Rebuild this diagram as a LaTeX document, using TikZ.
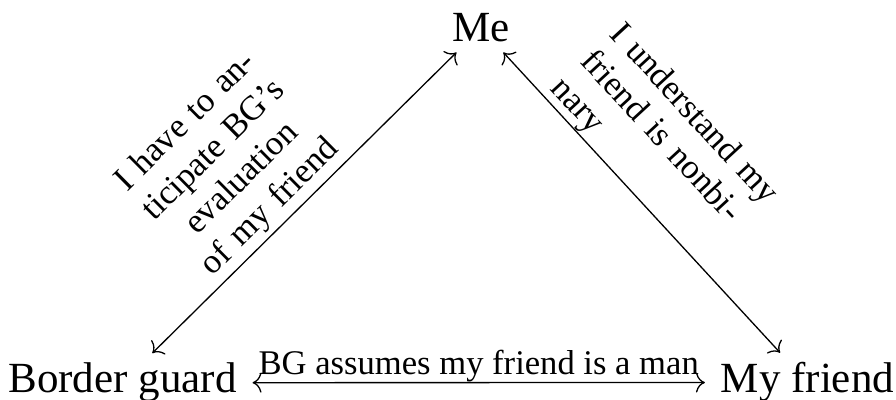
\documentclass[tikz,border=0pt]{standalone}
\usepackage{fontspec}
\setmainfont{Liberation Serif}
\usetikzlibrary{arrows.meta}
\tikzset{
  mainnode/.style={font=\fontsize{21.5}{26}\selectfont, inner xsep=8pt, inner ysep=5pt, outer sep=0pt},
  lab/.style={font=\fontsize{17.3}{20}\selectfont, inner xsep=0pt},
  cmtip/.tip={Computer Modern Rightarrow[length=4.5pt,width=10pt]},
  arr/.style={{cmtip}-{cmtip}, line width=0.65pt}
}
\begin{document}
\begin{tikzpicture}[x=0.5pt,y=-0.5pt]
\useasboundingbox (0,0) rectangle (896,400);
\node[mainnode, anchor=base] (me) at (481,42) {Me};
\node[mainnode, anchor=base] (bg) at (122.5,393) {Border guard};
\node[mainnode, anchor=base] (mf) at (807.5,393) {My friend};
\draw[arr] (bg) -- (me)
  node[lab, pos=0.436, sloped, anchor=south, text width=100pt, align=center, inner ysep=2pt]
  {I have to an-\\ticipate BG’s\\evaluation\\of my friend};
\draw[arr] (me) -- (mf)
  node[lab, pos=0.438, sloped, anchor=south, text width=120pt, align=left, inner ysep=0.5pt]
  {I understand my\\friend is nonbi-\\nary};
\draw[arr] (bg) -- (mf)
  node[lab, pos=0.5, anchor=south, inner ysep=0pt] {BG assumes my friend is a man};
\end{tikzpicture}
\end{document}
